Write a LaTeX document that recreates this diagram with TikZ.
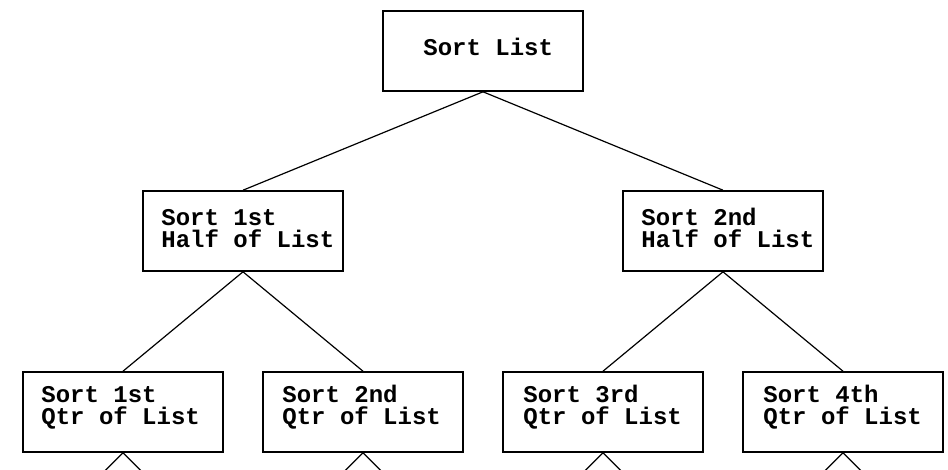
\documentclass[tikz,border=0pt]{standalone}
\usepackage{fontspec}
\newfontfamily\boxfont{Liberation Mono}
\usetikzlibrary{calc}

% two stacked lines whose baseline is that of the first line
\newcommand{\twolines}[2]{\vtop{\baselineskip=22.7pt\hbox{#1}\hbox{#2}}}

\tikzset{
  unit/.style={x=1pt,y=-1pt},
  box/.style={draw=black, line width=1.6pt, minimum width=200pt, minimum height=80pt, inner sep=0pt},
  txt/.style={anchor=base west, inner sep=0pt, font=\boxfont\bfseries\fontsize{24}{22.7}\selectfont},
  edge/.style={draw=black, line width=1.2pt}
}

\begin{document}
\begin{tikzpicture}[unit]
  \useasboundingbox (0,0) rectangle (948,469);
  \clip (0,0) rectangle (948,469);

  % boxes
  \node[box] (root) at (483,51) {};
  \node[box] (h1) at (243,231) {};
  \node[box] (h2) at (723,231) {};
  \node[box] (q1) at (123,412) {};
  \node[box] (q2) at (363,412) {};
  \node[box] (q3) at (603,412) {};
  \node[box] (q4) at (843,412) {};

  % box texts
  \node[txt] (rootT) at ($(root.north west)+(41,45)$) {Sort List};
  \node[txt] (h1T) at ($(h1.north west)+(19,35)$) {\twolines{Sort 1st}{Half of List}};
  \node[txt] (h2T) at ($(h2.north west)+(19,35)$) {\twolines{Sort 2nd}{Half of List}};
  \node[txt] (q1T) at ($(q1.north west)+(19,31)$) {\twolines{Sort 1st}{Qtr of List}};
  \node[txt] (q2T) at ($(q2.north west)+(20,31)$) {\twolines{Sort 2nd}{Qtr of List}};
  \node[txt] (q3T) at ($(q3.north west)+(21,31)$) {\twolines{Sort 3rd}{Qtr of List}};
  \node[txt] (q4T) at ($(q4.north west)+(21,31)$) {\twolines{Sort 4th}{Qtr of List}};

  % tree connectors
  \draw[edge] (root.south) -- (h1.north);
  \draw[edge] (root.south) -- (h2.north);
  \draw[edge] (h1.south) -- (q1.north);
  \draw[edge] (h1.south) -- (q2.north);
  \draw[edge] (h2.south) -- (q3.north);
  \draw[edge] (h2.south) -- (q4.north);

  % branches continuing below the lowest level
  \foreach \q in {q1,q2,q3,q4} {
    \coordinate (\q L) at ($(\q.south)+(-25,25)$);
    \coordinate (\q R) at ($(\q.south)+(25,25)$);
    \draw[edge] (\q.south) -- (\q L);
    \draw[edge] (\q.south) -- (\q R);
  }
\end{tikzpicture}
\end{document}
